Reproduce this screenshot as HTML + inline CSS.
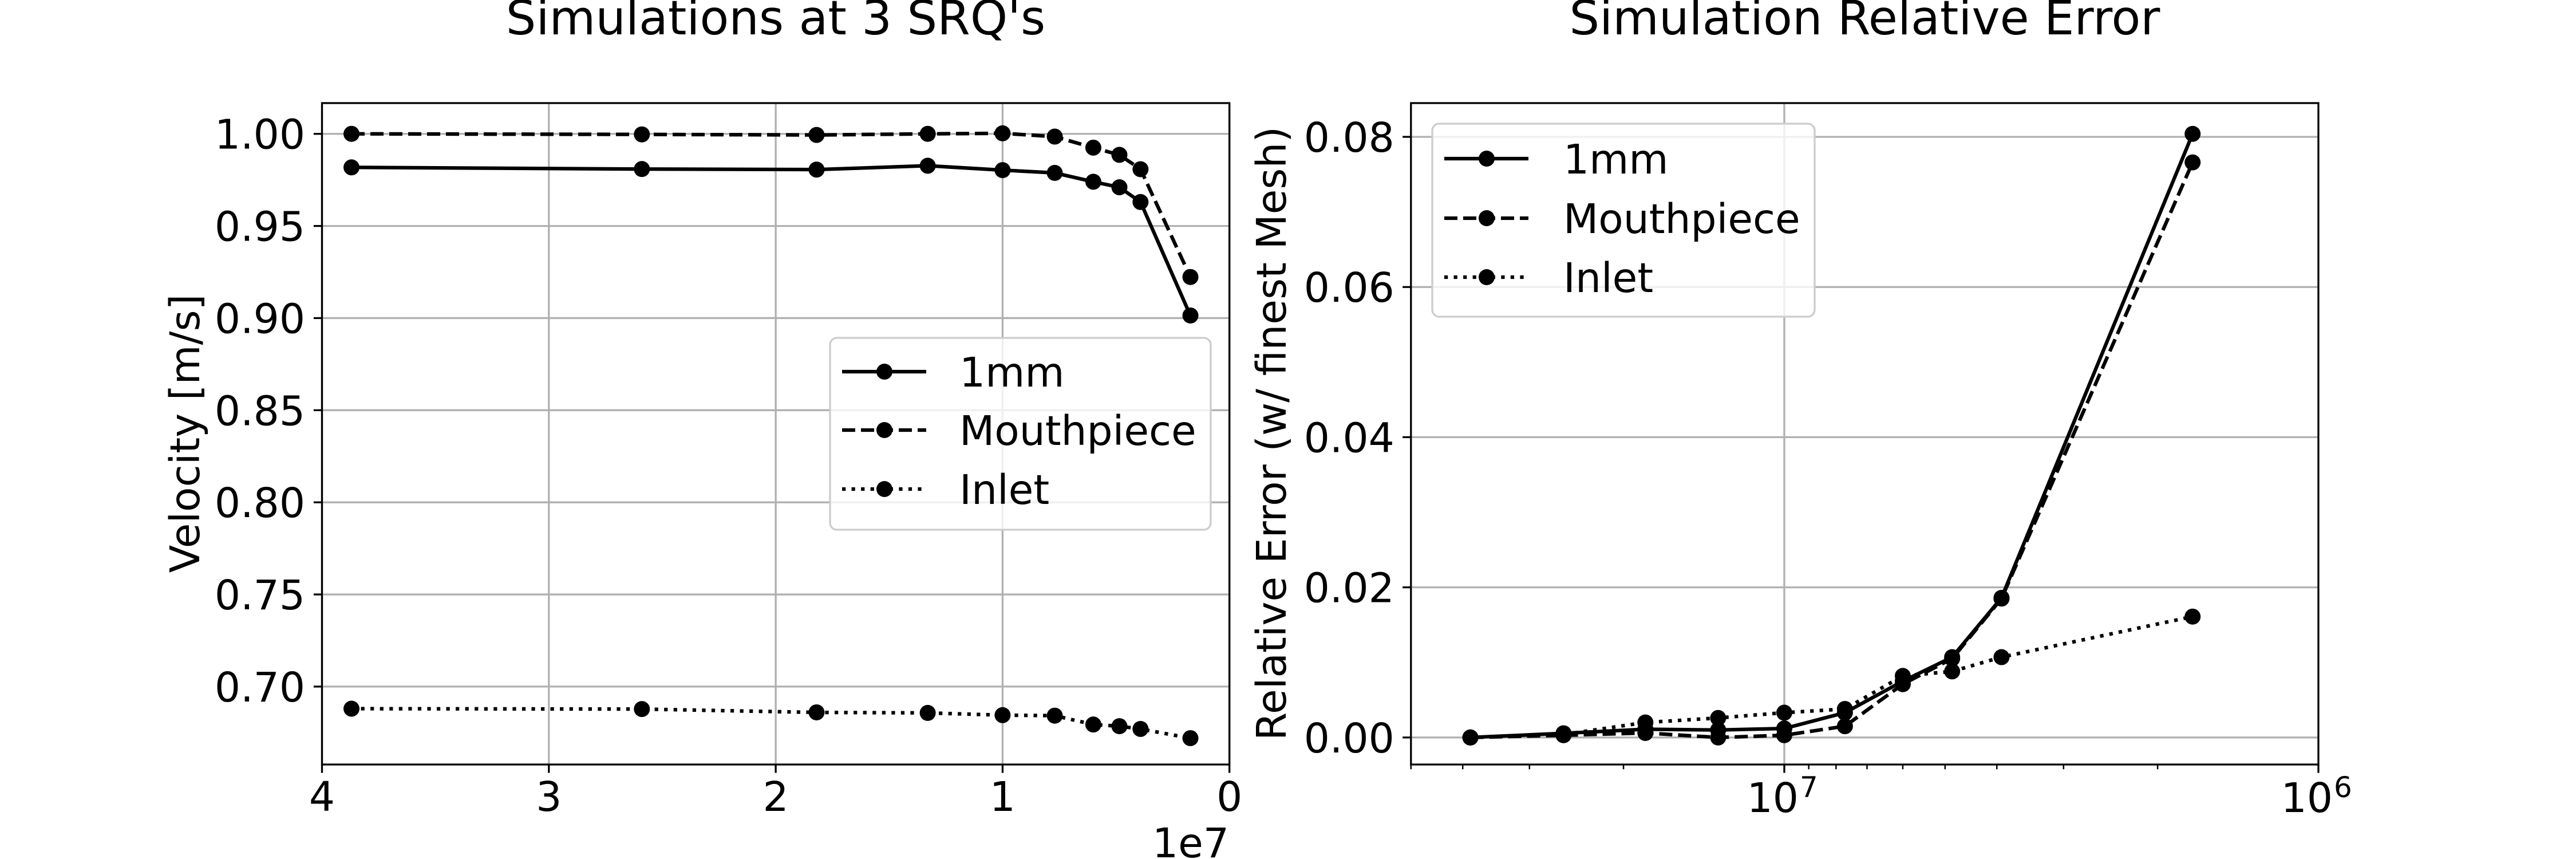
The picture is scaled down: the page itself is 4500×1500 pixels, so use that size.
<!DOCTYPE html>
<html><head><meta charset="utf-8">
<style>
html,body{margin:0;padding:0;background:#fff;}
svg{display:block;font-family:"DejaVu Sans","Liberation Sans",sans-serif;}
</style></head>
<body>
<svg id="fig" xmlns="http://www.w3.org/2000/svg" width="4500" height="1500" viewBox="0 0 4500 1500"></svg>
<script>
// ---- data ----
const meshSizes = [3.87e7, 2.59e7, 1.82e7, 1.33e7, 1.0e7, 7.7e6, 6.0e6, 4.85e6, 3.92e6, 1.72e6];
const velocity1mm = [0.9818, 0.9809, 0.9806, 0.9827, 0.9803, 0.9788, 0.974, 0.971, 0.963, 0.9014];
const velocityMouthpiece = [1.000, 0.9997, 0.9994, 1.0, 1.0003, 0.9985, 0.9925, 0.9886, 0.9808, 0.9223];
const velocityInlet = [0.688, 0.6878, 0.686, 0.6857, 0.6845, 0.6842, 0.6794, 0.6785, 0.677, 0.672];
const error1mm = [0, 0.00056, 0.0011, 0.0010, 0.0012, 0.0033, 0.0075, 0.0107, 0.0186, 0.0804];
const errorMouthpiece = [0, 0.0003, 0.0006, 0.0, 0.0003, 0.0015, 0.0071, 0.0105, 0.0185, 0.0766];
const errorInlet = [0, 0.0004, 0.0020, 0.0026, 0.0033, 0.0038, 0.0082, 0.0088, 0.0107, 0.0161];
const leftXTicks = [4, 3, 2, 1, 0];
const leftYTicks = [0.70, 0.75, 0.80, 0.85, 0.90, 0.95, 1.00];
const rightYTicks = [0.00, 0.02, 0.04, 0.06, 0.08];
const seriesNames = ["1mm", "Mouthpiece", "Inlet"];

const NS = "http://www.w3.org/2000/svg";
const svg = document.getElementById("fig");
function el(tag, attrs, parent) {
  const e = document.createElementNS(NS, tag);
  for (const k in attrs) e.setAttribute(k, attrs[k]);
  (parent || svg).appendChild(e);
  return e;
}
const FS = 71;
const dashes = ["none", "23,10", "6.25,10.3"];

const L = {x0: 562.5, x1: 2147.7, y0: 180, y1: 1335};
const R = {x0: 2464.8, x1: 4050, y0: 180, y1: 1335};
const lx = v => L.x0 + (4e7 - v) / 4e7 * (L.x1 - L.x0);
const ly = v => L.y1 - (v - 0.6577) / (1.0167 - 0.6577) * (L.y1 - L.y0);
const rlx0 = Math.log10(5e7), rlx1 = 6;
const rx = v => R.x0 + (rlx0 - Math.log10(v)) / (rlx0 - rlx1) * (R.x1 - R.x0);
const ry = v => R.y1 - (v - (-0.0036)) / (0.0845 + 0.0036) * (R.y1 - R.y0);

function drawSeries(g, xs, ys, fx, fy, dash, name) {
  const pts = xs.map((x, i) => fx(x).toFixed(1) + "," + fy(ys[i]).toFixed(1)).join(" ");
  const pl = el("polyline", {points: pts, fill: "none", stroke: "#000", "stroke-width": 6.25, "stroke-dasharray": dash, "stroke-linejoin": "round"}, g);
  
  
  xs.forEach((x, i) => {
    const c = el("circle", {cx: fx(x), cy: fy(ys[i]), r: 14, fill: "#000"}, g);
    
    
  });
}

function legend(x, y, w, h, textX, baselines, g) {
  const r = el("rect", {x: x, y: y, width: w, height: h, rx: 12, fill: "rgba(255,255,255,0.8)", stroke: "#cccccc", "stroke-width": 3.3}, g);
  
  
  seriesNames.forEach((n, i) => {
    const cy = baselines[i] - 26;
    const ln = el("line", {x1: x + 21, x2: x + 168, y1: cy, y2: cy, stroke: "#000", "stroke-width": 6.25, "stroke-dasharray": dashes[i]}, g);
    
    
    const c = el("circle", {cx: x + 95, cy: cy, r: 14, fill: "#000"}, g);
    
    
    const t = el("text", {x: textX, y: baselines[i], "font-size": FS}, g);
    t.textContent = n;
    
    
  });
}

// ---------- LEFT PLOT ----------
const gl = el("g", {});


leftXTicks.forEach(t => {
  const x = lx(t * 1e7);
  const gr = el("line", {x1: x, x2: x, y1: L.y0, y2: L.y1, stroke: "#b0b0b0", "stroke-width": 3.3}, gl);
  
  
  el("line", {x1: x, x2: x, y1: L.y1, y2: L.y1 + 14.6, stroke: "#000", "stroke-width": 3.3}, gl);
  const tx = el("text", {x: x, y: 1416, "font-size": FS, "text-anchor": "middle"}, gl);
  tx.textContent = String(t);
  
  
});
leftYTicks.forEach(t => {
  const y = ly(t);
  const gr = el("line", {x1: L.x0, x2: L.x1, y1: y, y2: y, stroke: "#b0b0b0", "stroke-width": 3.3}, gl);
  
  
  el("line", {x1: L.x0 - 14.6, x2: L.x0, y1: y, y2: y, stroke: "#000", "stroke-width": 3.3}, gl);
  const tx = el("text", {x: 533, y: y + 26, "font-size": FS, "text-anchor": "end"}, gl);
  tx.textContent = t.toFixed(2);
  
  
});
const clipL = el("clipPath", {id: "clipL"}, gl);
el("rect", {x: L.x0, y: L.y0, width: L.x1 - L.x0, height: L.y1 - L.y0}, clipL);
const sl = el("g", {"clip-path": "url(#clipL)"}, gl);
drawSeries(sl, meshSizes, velocity1mm, lx, ly, dashes[0], "1mm");
drawSeries(sl, meshSizes, velocityMouthpiece, lx, ly, dashes[1], "mouthpiece");
drawSeries(sl, meshSizes, velocityInlet, lx, ly, dashes[2], "inlet");
const spL = el("rect", {x: L.x0, y: L.y0, width: L.x1 - L.x0, height: L.y1 - L.y0, fill: "none", stroke: "#000", "stroke-width": 3.3}, gl);


legend(1450, 590, 665, 335, 1676, [675, 777, 880], gl);
const tL = el("text", {x: 1355, y: 60, "font-size": 83, "text-anchor": "middle"}, gl);
tL.textContent = "Simulations at 3 SRQ's";


const yl = el("text", {x: 0, y: 0, "font-size": FS, "text-anchor": "middle", transform: "translate(348,757) rotate(-90)"}, gl);
yl.textContent = "Velocity [m/s]";


const off = el("text", {x: 2147, y: 1497, "font-size": FS, "text-anchor": "end"}, gl);
off.textContent = "1e7";



// ---------- RIGHT PLOT ----------
const gr2 = el("g", {});


rightYTicks.forEach(t => {
  const y = ry(t);
  const g1 = el("line", {x1: R.x0, x2: R.x1, y1: y, y2: y, stroke: "#b0b0b0", "stroke-width": 3.3}, gr2);
  
  
  el("line", {x1: R.x0 - 14.6, x2: R.x0, y1: y, y2: y, stroke: "#000", "stroke-width": 3.3}, gr2);
  const tx = el("text", {x: R.x0 - 29, y: y + 26, "font-size": FS, "text-anchor": "end"}, gr2);
  tx.textContent = t.toFixed(2);
  
  
});
[1e7, 1e6].forEach((v, i) => {
  const x = rx(v);
  if (i === 0) {
    const g1 = el("line", {x1: x, x2: x, y1: R.y0, y2: R.y1, stroke: "#b0b0b0", "stroke-width": 3.3}, gr2);
    
    
  }
  el("line", {x1: x, x2: x, y1: R.y1, y2: R.y1 + 14.6, stroke: "#000", "stroke-width": 3.3}, gr2);
  const tx = el("text", {x: x + 25, y: 1418, "font-size": FS, "text-anchor": "end"}, gr2);
  tx.textContent = "10";
  
  
  const sp = el("text", {x: x + 27, y: 1392, "font-size": 50, "text-anchor": "start"}, gr2);
  sp.textContent = i === 0 ? "7" : "6";
  
  
});
[2e6,3e6,4e6,5e6,6e6,7e6,8e6,9e6,2e7,3e7,4e7,5e7].forEach(v => {
  const x = rx(v);
  el("line", {x1: x, x2: x, y1: R.y1, y2: R.y1 + 8.3, stroke: "#000", "stroke-width": 2.5}, gr2);
});
const clipR = el("clipPath", {id: "clipR"}, gr2);
el("rect", {x: R.x0, y: R.y0, width: R.x1 - R.x0, height: R.y1 - R.y0}, clipR);
const sr = el("g", {"clip-path": "url(#clipR)"}, gr2);
drawSeries(sr, meshSizes, error1mm, rx, ry, dashes[0], "1mm");
drawSeries(sr, meshSizes, errorMouthpiece, rx, ry, dashes[1], "mouthpiece");
drawSeries(sr, meshSizes, errorInlet, rx, ry, dashes[2], "inlet");
const spR = el("rect", {x: R.x0, y: R.y0, width: R.x1 - R.x0, height: R.y1 - R.y0, fill: "none", stroke: "#000", "stroke-width": 3.3}, gr2);


legend(2502, 216, 668, 337, 2731, [303, 407, 510], gr2);
const tR = el("text", {x: (R.x0 + R.x1) / 2, y: 60, "font-size": 83, "text-anchor": "middle"}, gr2);
tR.textContent = "Simulation Relative Error";


const yr = el("text", {x: 0, y: 0, "font-size": FS, "text-anchor": "middle", transform: "translate(2246,757) rotate(-90)"}, gr2);
yr.textContent = "Relative Error (w/ finest Mesh)";


</script>
</body></html>
